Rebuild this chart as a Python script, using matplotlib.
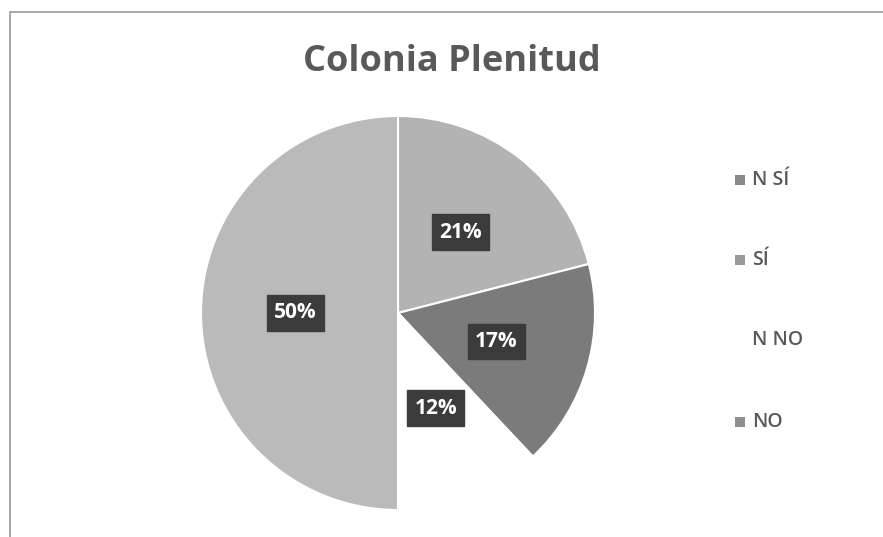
import matplotlib
matplotlib.use("Agg")
import matplotlib.pyplot as plt
from matplotlib.patches import Rectangle

categories = ["N SÍ", "SÍ", "N NO", "NO"]
values = [21, 17, 12, 50]
colors = ["#b3b3b3", "#7b7b7b", "#ffffff", "#bababa"]
marker_colors = ["#8a8a8a", "#9a9a9a", "#ffffff", "#8f8f8f"]

plt.rcParams['font.family'] = ['Open Sans', 'DejaVu Sans']

W, H = 883, 537
fig = plt.figure(figsize=(W / 100, H / 100), dpi=100)
fig.patch.set_facecolor("white")

# chart frame
fig.add_artist(Rectangle((10 / W, -0.01), (W - 9) / W, (H - 12) / H + 0.01, transform=fig.transFigure,
                         fill=False, edgecolor="#9a9a9a", linewidth=1.2))

cx, cy, r = 398, 313, 197
ax = fig.add_axes([(cx - r) / W, (H - cy - r) / H, 2 * r / W, 2 * r / H])
wedges, texts, autotexts = ax.pie(
    values, colors=colors, startangle=90, counterclock=False,
    autopct=lambda p: f"{p:.0f}%", pctdistance=0.52,
    wedgeprops=dict(edgecolor="white", linewidth=1.5),
    textprops=dict(color="white", fontsize=15, fontweight="bold"))
for t in autotexts:
    t.set_bbox(dict(boxstyle="square,pad=0.35", facecolor="#3b3b3b", edgecolor="#3b3b3b"))
ax.set_xlim(-1, 1)
ax.set_ylim(-1, 1)
ax.set_aspect("equal")
ax.axis("off")

fig.text(452 / W, 1 - 62 / H, "Colonia Plenitud", ha="center", va="center",
         fontsize=26, fontweight="bold", color="#595959")

# legend
leg_y = [180, 260, 340, 422]
for name, mc, y in zip(categories, marker_colors, leg_y):
    fig.add_artist(Rectangle((735 / W, 1 - (y + 5) / H), 10 / W, 10 / H,
                             transform=fig.transFigure, facecolor=mc, edgecolor="none"))
    fig.text(752 / W, 1 - y / H, name, ha="left", va="center",
             fontsize=14, color="#595959", fontweight="semibold")

fig.savefig("out.png", dpi=100)
